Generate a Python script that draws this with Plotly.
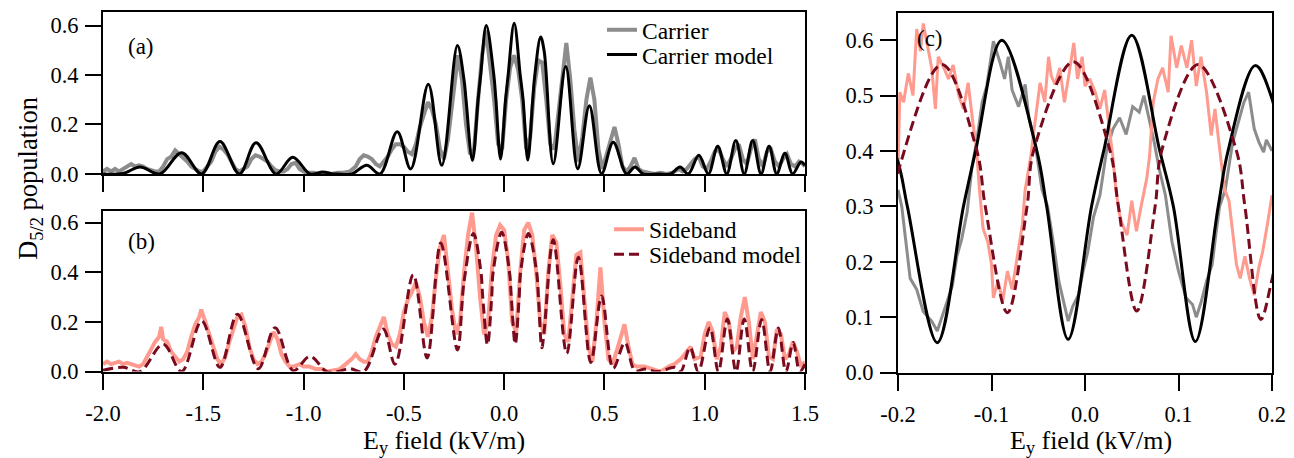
import plotly.graph_objects as go

# ---------------- data ----------------
# Carrier measurement, panel (a)
carrier_x = [-2.00,-1.98,-1.96,-1.94,-1.92,-1.90,-1.88,-1.86,-1.84,-1.82,-1.80,-1.78,-1.76,-1.74,-1.72,
             -1.70,-1.68,-1.66,-1.64,-1.62,-1.60,-1.58,-1.56,-1.54,-1.52,-1.50,-1.48,-1.46,-1.44,-1.42,
             -1.40,-1.38,-1.36,-1.34,-1.32,-1.30,-1.28,-1.26,-1.24,-1.22,-1.20,-1.18,-1.16,-1.14,-1.12,
             -1.10,-1.08,-1.06,-1.04,-1.02,-1.00,-0.98,-0.95,-0.92,-0.89,-0.86,-0.83,-0.80,-0.77,-0.74,
             -0.72,-0.70,-0.68,-0.66,-0.64,-0.62,-0.60,-0.58,-0.56,-0.54,-0.52,-0.50,-0.48,-0.46,-0.44,
             -0.42,-0.40,-0.38,-0.36,-0.34,-0.32,-0.30,-0.28,-0.26,-0.24,-0.23,-0.21,-0.19,-0.17,-0.15,
             -0.13,-0.11,-0.09,-0.07,-0.05,-0.03,-0.01,0.01,0.03,0.05,0.07,0.09,0.11,0.13,0.15,
             0.17,0.19,0.21,0.23,0.25,0.27,0.29,0.31,0.33,0.35,0.37,0.39,0.41,0.43,0.45,
             0.47,0.49,0.51,0.53,0.55,0.57,0.59,0.61,0.63,0.65,0.67,0.69,0.72,0.75,0.78,
             0.81,0.84,0.87,0.89,0.91,0.93,0.95,0.97,0.99,1.01,1.03,1.05,1.07,1.09,1.11,
             1.13,1.15,1.17,1.19,1.21,1.23,1.25,1.27,1.29,1.31,1.33,1.35,1.37,1.39,1.41,
             1.43,1.45,1.47,1.49,1.50]
carrier_y = [0.01,0.02,0.01,0.02,0.01,0.02,0.03,0.04,0.03,0.035,0.03,0.02,0.015,0.01,0.01,
             0.03,0.06,0.07,0.095,0.08,0.07,0.05,0.03,0.02,0.01,0.01,0.03,0.05,0.09,0.11,
             0.10,0.08,0.05,0.02,0.01,0.02,0.03,0.06,0.075,0.07,0.06,0.05,0.03,0.015,0.01,
             0.01,0.02,0.04,0.045,0.02,0.01,0.005,0.005,0.0,0.005,0.0,0.005,0.005,0.01,0.03,
             0.06,0.075,0.07,0.06,0.04,0.03,0.05,0.07,0.10,0.12,0.12,0.11,0.09,0.08,0.12,
             0.19,0.24,0.29,0.26,0.20,0.10,0.06,0.14,0.28,0.42,0.48,0.38,0.20,0.08,0.10,
             0.30,0.48,0.58,0.45,0.30,0.12,0.10,0.30,0.43,0.48,0.42,0.30,0.10,0.15,0.35,
             0.46,0.45,0.30,0.12,0.10,0.25,0.40,0.53,0.38,0.18,0.05,0.15,0.30,0.39,0.30,
             0.10,0.02,0.08,0.14,0.19,0.12,0.03,0.01,0.03,0.065,0.02,0.01,0.005,0.0,0.005,
             0.0,0.005,0.02,0.01,0.02,0.04,0.06,0.07,0.03,0.02,0.05,0.09,0.10,0.06,0.03,
             0.06,0.10,0.12,0.06,0.04,0.10,0.14,0.06,0.03,0.09,0.10,0.05,0.03,0.06,0.08,
             0.04,0.03,0.05,0.04,0.03]

# Carrier model (peaks, troughs and level crossings)
carrier_model_x = [-2.00,-1.90,-1.815,-1.716,-1.608,-1.508,-1.417,-1.320,-1.237,-1.137,-1.054,-0.968,-0.905,
                   -0.850,-0.760,-0.685,-0.619,-0.533,-0.466,-0.378,-0.311,-0.233,-0.200,-0.190,-0.158,
                   -0.130,-0.117,-0.089,-0.0515,-0.041,-0.018,0.007,0.020,0.050,0.080,0.0945,0.118,
                   0.1425,0.153,0.182,0.200,0.245,0.307,0.367,0.425,0.486,0.544,0.611,0.652,0.694,
                   0.770,0.830,0.877,0.918,0.971,1.018,1.065,1.110,1.155,1.197,1.239,1.281,1.321,
                   1.359,1.400,1.438,1.480,1.500]
carrier_model_y = [0.000,0.002,0.028,0.000,0.086,0.000,0.131,0.000,0.126,0.000,0.067,0.000,0.008,
                   0.000,0.000,0.035,0.000,0.171,0.020,0.363,0.035,0.519,0.380,0.300,0.054,
                   0.300,0.400,0.600,0.400,0.300,0.060,0.300,0.400,0.609,0.400,0.300,0.056,
                   0.300,0.400,0.554,0.494,0.041,0.434,0.021,0.276,0.001,0.128,0.000,0.028,0.000,
                   0.000,0.000,0.028,0.000,0.075,0.000,0.112,0.000,0.135,0.000,0.135,0.000,0.112,
                   0.000,0.084,0.000,0.048,0.035]

# Sideband measurement, panel (b)
sideband_x = [-2.00,-1.98,-1.96,-1.94,-1.92,-1.90,-1.88,-1.86,-1.84,-1.82,-1.80,-1.78,-1.76,-1.74,-1.72,
              -1.71,-1.70,-1.68,-1.66,-1.64,-1.62,-1.60,-1.58,-1.56,-1.54,-1.52,-1.51,-1.49,-1.47,-1.45,
              -1.43,-1.41,-1.39,-1.37,-1.35,-1.33,-1.31,-1.29,-1.27,-1.25,-1.23,-1.21,-1.19,-1.17,-1.15,
              -1.13,-1.11,-1.09,-1.07,-1.05,-1.02,-1.00,-0.97,-0.94,-0.91,-0.88,-0.85,-0.82,-0.79,-0.76,
              -0.74,-0.72,-0.70,-0.68,-0.66,-0.64,-0.62,-0.60,-0.58,-0.56,-0.54,-0.52,-0.50,-0.48,-0.46,
              -0.44,-0.42,-0.40,-0.38,-0.36,-0.34,-0.32,-0.30,-0.28,-0.26,-0.24,-0.22,-0.20,-0.18,-0.16,
              -0.14,-0.12,-0.10,-0.08,-0.06,-0.04,-0.02,0.00,0.02,0.04,0.06,0.08,0.10,0.12,0.14,
              0.16,0.18,0.20,0.22,0.24,0.26,0.28,0.30,0.32,0.34,0.36,0.38,0.40,0.42,0.44,
              0.46,0.48,0.50,0.52,0.54,0.56,0.58,0.60,0.62,0.64,0.66,0.70,0.74,0.78,0.82,
              0.85,0.88,0.91,0.93,0.95,0.98,1.00,1.02,1.04,1.06,1.08,1.10,1.12,1.14,1.16,
              1.18,1.20,1.22,1.24,1.26,1.28,1.30,1.32,1.34,1.36,1.38,1.40,1.42,1.44,1.46,
              1.48,1.50]
sideband_y = [0.03,0.04,0.03,0.035,0.04,0.03,0.035,0.03,0.025,0.02,0.03,0.06,0.09,0.12,0.14,
              0.18,0.13,0.12,0.08,0.06,0.04,0.05,0.08,0.14,0.19,0.22,0.25,0.20,0.15,0.10,
              0.05,0.03,0.06,0.12,0.17,0.22,0.23,0.18,0.10,0.05,0.03,0.04,0.07,0.12,0.16,
              0.13,0.07,0.04,0.02,0.02,0.03,0.02,0.02,0.01,0.01,0.0,0.005,0.01,0.03,0.05,
              0.07,0.05,0.04,0.04,0.08,0.14,0.18,0.22,0.15,0.11,0.10,0.15,0.24,0.29,0.32,
              0.36,0.30,0.20,0.14,0.22,0.38,0.50,0.55,0.38,0.25,0.15,0.20,0.40,0.55,0.64,
              0.50,0.30,0.15,0.20,0.42,0.55,0.59,0.57,0.45,0.20,0.16,0.40,0.57,0.60,0.55,
              0.40,0.20,0.15,0.40,0.55,0.52,0.35,0.15,0.12,0.30,0.47,0.48,0.30,0.10,0.04,
              0.20,0.42,0.20,0.05,0.03,0.08,0.14,0.19,0.10,0.03,0.02,0.02,0.01,0.0,0.02,
              0.03,0.05,0.08,0.10,0.05,0.06,0.15,0.20,0.16,0.05,0.10,0.24,0.20,0.08,0.10,
              0.22,0.30,0.20,0.05,0.15,0.24,0.20,0.06,0.05,0.17,0.15,0.05,0.07,0.12,0.08,
              0.02,0.04]

# Sideband model
sideband_model_x = [-2.00,-1.899,-1.816,-1.700,-1.608,-1.508,-1.417,-1.330,-1.226,-1.142,-1.051,-0.968,-0.885,
                    -0.830,-0.770,-0.700,-0.603,-0.544,-0.453,-0.384,-0.316,-0.233,-0.200,-0.153,-0.1156,
                    -0.1067,-0.083,-0.062,-0.055,-0.0124,0.0268,0.0357,0.0553,0.075,0.082,0.121,0.162,
                    0.171,0.188,0.200,0.245,0.312,0.370,0.432,0.486,0.544,0.602,0.652,0.702,0.768,
                    0.852,0.880,0.927,0.968,1.026,1.068,1.113,1.156,1.197,1.239,1.284,1.326,1.367,
                    1.405,1.441,1.474,1.500]
sideband_model_y = [0.005,0.017,0.000,0.110,0.000,0.204,0.017,0.231,0.011,0.177,0.004,0.061,0.000,
                    0.000,0.012,0.000,0.171,0.030,0.390,0.055,0.518,0.087,0.362,0.556,0.400,
                    0.300,0.108,0.300,0.400,0.561,0.400,0.300,0.111,0.300,0.400,0.556,0.400,
                    0.300,0.096,0.168,0.531,0.073,0.460,0.037,0.304,0.013,0.117,0.004,0.010,0.000,
                    0.017,0.000,0.097,0.000,0.177,0.000,0.212,0.000,0.212,0.000,0.210,0.000,0.175,
                    0.000,0.117,0.000,0.030]

# Zoomed measurements, panel (c)
carrier_c_x = [-0.200,-0.196,-0.187,-0.180,-0.173,-0.164,-0.158,-0.153,-0.148,-0.142,-0.137,-0.132,-0.126,
               -0.121,-0.116,-0.110,-0.105,-0.098,-0.091,-0.086,-0.082,-0.078,-0.071,-0.064,-0.060,-0.053,
               -0.046,-0.040,-0.034,-0.028,-0.023,-0.018,-0.013,-0.007,-0.002,0.003,0.009,0.016,0.023,
               0.030,0.037,0.044,0.051,0.058,0.063,0.069,0.074,0.079,0.086,0.093,0.100,0.108,0.115,
               0.119,0.124,0.130,0.136,0.140,0.144,0.150,0.158,0.165,0.170,0.175,0.181,0.186,0.191,
               0.194,0.200]
carrier_c_y = [0.33,0.30,0.17,0.15,0.11,0.093,0.075,0.10,0.123,0.156,0.21,0.24,0.29,
               0.37,0.416,0.488,0.518,0.598,0.56,0.53,0.57,0.51,0.48,0.52,0.46,0.41,
               0.33,0.30,0.236,0.165,0.129,0.093,0.12,0.14,0.183,0.218,0.28,0.32,0.40,
               0.44,0.46,0.43,0.48,0.47,0.50,0.455,0.416,0.37,0.32,0.236,0.183,0.135,0.123,
               0.10,0.126,0.165,0.195,0.25,0.30,0.33,0.416,0.458,0.488,0.506,0.44,0.416,0.398,
               0.42,0.40]
sideband_c_x = [-0.200,-0.198,-0.194,-0.189,-0.184,-0.180,-0.176,-0.173,-0.169,-0.164,-0.160,-0.157,-0.151,
                -0.146,-0.141,-0.135,-0.130,-0.125,-0.120,-0.116,-0.113,-0.109,-0.104,-0.100,-0.098,-0.093,
                -0.088,-0.083,-0.078,-0.072,-0.067,-0.064,-0.058,-0.053,-0.048,-0.043,-0.039,-0.036,-0.032,
                -0.027,-0.022,-0.017,-0.012,-0.008,-0.003,0.000,0.005,0.011,0.016,0.021,0.026,0.030,
                0.033,0.037,0.040,0.045,0.050,0.055,0.060,0.066,0.069,0.073,0.078,0.083,0.089,
                0.092,0.098,0.103,0.109,0.114,0.119,0.124,0.130,0.135,0.139,0.144,0.149,0.154,
                0.158,0.162,0.166,0.171,0.176,0.181,0.186,0.190,0.195,0.200]
sideband_c_y = [0.368,0.506,0.488,0.54,0.50,0.62,0.58,0.63,0.595,0.55,0.476,0.57,0.55,
                0.53,0.555,0.50,0.476,0.523,0.452,0.404,0.332,0.26,0.236,0.195,0.135,0.165,
                0.129,0.183,0.15,0.21,0.267,0.33,0.39,0.458,0.523,0.488,0.57,0.535,0.52,
                0.55,0.488,0.54,0.595,0.53,0.57,0.517,0.53,0.506,0.476,0.51,0.44,0.386,
                0.33,0.285,0.267,0.248,0.31,0.255,0.30,0.35,0.39,0.488,0.53,0.55,0.506,
                0.608,0.55,0.59,0.55,0.60,0.517,0.57,0.506,0.428,0.476,0.398,0.332,0.31,
                0.255,0.195,0.17,0.21,0.17,0.14,0.19,0.218,0.267,0.32]

# Tick labels
ab_tickvals = [-2.0, -1.5, -1.0, -0.5, 0.0, 0.5, 1.0, 1.5]
ab_ticktext = ["-2.0", "-1.5", "-1.0", "-0.5", "0.0", "0.5", "1.0", "1.5"]
c_tickvals = [-0.2, -0.1, 0.0, 0.1, 0.2]
c_ticktext = ["-0.2", "-0.1", "0.0", "0.1", "0.2"]
ab_ytickvals = [0.0, 0.2, 0.4, 0.6]
ab_yticktext = ["0.0", "0.2", "0.4", "0.6"]
ab_yminorvals = [0.1, 0.3, 0.5]
c_ytickvals = [0.0, 0.1, 0.2, 0.3, 0.4, 0.5, 0.6]
c_yticktext = ["0.0", "0.1", "0.2", "0.3", "0.4", "0.5", "0.6"]

# ---------------- styling ----------------
OFF = 8                      # page body margin
W, H = 1294 - OFF, 458 - OFF
FONT = "Liberation Serif"
GRAY = "#8c8c8c"
SALMON = "#ff9a8e"
DARKRED = "#7a0a1e"
DASH = "10px,5px"

def px_x(p):
    return (p - OFF) / W

def px_y(p):
    return 1 - (p - OFF) / H

fig = go.Figure()

# Panel (a)
fig.add_trace(go.Scatter(x=carrier_x, y=carrier_y, mode="lines", name="Carrier",
                         line=dict(color=GRAY, width=4), xaxis="x", yaxis="y", legend="legend"))
fig.add_trace(go.Scatter(x=carrier_model_x, y=carrier_model_y, mode="lines", name="Carrier model",
                         line=dict(color="black", width=3, shape="spline", smoothing=1.0),
                         xaxis="x", yaxis="y", legend="legend2"))
# Panel (b)
fig.add_trace(go.Scatter(x=sideband_x, y=sideband_y, mode="lines", name="Sideband",
                         line=dict(color=SALMON, width=4), xaxis="x2", yaxis="y2", legend="legend3"))
fig.add_trace(go.Scatter(x=sideband_model_x, y=sideband_model_y, mode="lines", name="Sideband model",
                         line=dict(color=DARKRED, width=3, dash=DASH, shape="spline", smoothing=1.0),
                         xaxis="x2", yaxis="y2", legend="legend4"))
# Panel (c)
fig.add_trace(go.Scatter(x=carrier_c_x, y=carrier_c_y, mode="lines", showlegend=False,
                         line=dict(color=GRAY, width=3), xaxis="x3", yaxis="y3"))
fig.add_trace(go.Scatter(x=sideband_c_x, y=sideband_c_y, mode="lines", showlegend=False,
                         line=dict(color=SALMON, width=3), xaxis="x3", yaxis="y3"))
fig.add_trace(go.Scatter(x=carrier_model_x, y=carrier_model_y, mode="lines", showlegend=False,
                         line=dict(color="black", width=3, shape="spline", smoothing=1.0),
                         xaxis="x3", yaxis="y3"))
fig.add_trace(go.Scatter(x=sideband_model_x, y=sideband_model_y, mode="lines", showlegend=False,
                         line=dict(color=DARKRED, width=3, dash=DASH, shape="spline", smoothing=1.0),
                         xaxis="x3", yaxis="y3"))

tickfont = dict(family=FONT, size=22.5, color="black")

def xax(domain, rng, tv, tt, show, anchor):
    return dict(domain=domain, range=rng, anchor=anchor, tickvals=tv, ticktext=tt,
                showticklabels=show, ticks="outside", ticklen=16, tickwidth=2, tickcolor="black",
                showline=True, linewidth=2, linecolor="black", mirror=True, showgrid=False,
                zeroline=False, tickfont=tickfont, automargin=False, ticklabelstandoff=4)

def yax(domain, rng, tv, tt, anchor):
    return dict(domain=domain, range=rng, anchor=anchor, tickvals=tv, ticktext=tt,
                ticks="outside", ticklen=16, tickwidth=2, tickcolor="black",
                showline=True, linewidth=2, linecolor="black", mirror=True, showgrid=False,
                zeroline=False, tickfont=tickfont, automargin=False, ticklabelstandoff=2)

def yminor(over, anchor, rng):
    # overlay axis carrying only the short minor ticks
    return dict(overlaying=over, anchor=anchor, side="left", range=rng, tickvals=ab_yminorvals,
                ticks="outside", ticklen=8, tickwidth=2, tickcolor="black", showticklabels=False,
                showline=False, showgrid=False, zeroline=False, automargin=False)

xdom_ab = [px_x(103), px_x(805)]
xdom_c = [px_x(898), px_x(1272)]

leg_font = dict(family=FONT, size=23.5, color="black")

def legend_at(xp, yp):
    return dict(x=px_x(xp), y=px_y(yp), xanchor="left", yanchor="middle", font=leg_font,
                bgcolor="rgba(0,0,0,0)", borderwidth=0, tracegroupgap=0)

RNG_A = [0, 0.655]
RNG_B = [0, 0.648]

fig.update_layout(
    width=W, height=H,
    margin=dict(l=0, r=0, t=0, b=0),
    paper_bgcolor="white", plot_bgcolor="white",
    xaxis=xax(xdom_ab, [-2.0, 1.5], ab_tickvals, ab_ticktext, False, "y"),
    yaxis=yax([px_y(172), px_y(9)], RNG_A, ab_ytickvals, ab_yticktext, "x"),
    xaxis2=xax(xdom_ab, [-2.0, 1.5], ab_tickvals, ab_ticktext, True, "y2"),
    yaxis2=yax([px_y(371), px_y(209)], RNG_B, ab_ytickvals, ab_yticktext, "x2"),
    xaxis3=xax(xdom_c, [-0.2, 0.2], c_tickvals, c_ticktext, True, "y3"),
    yaxis3=yax([px_y(372), px_y(10)], [0, 0.649], c_ytickvals, c_yticktext, "x3"),
    yaxis4=yminor("y", "x", RNG_A),
    yaxis5=yminor("y2", "x2", RNG_B),
    legend=legend_at(602, 27),
    legend2=legend_at(602, 52),
    legend3=legend_at(609, 228),
    legend4=legend_at(609, 253),
    showlegend=True,
)

ann_font = dict(family=FONT, size=23, color="black")
title_font = dict(family=FONT, size=26, color="black")
fig.add_annotation(text="(a)", x=px_x(141), y=px_y(44), xref="paper", yref="paper",
                   showarrow=False, font=ann_font, xanchor="center", yanchor="middle")
fig.add_annotation(text="(b)", x=px_x(141), y=px_y(240), xref="paper", yref="paper",
                   showarrow=False, font=ann_font, xanchor="center", yanchor="middle")
fig.add_annotation(text="(c)", x=px_x(930), y=px_y(36), xref="paper", yref="paper",
                   showarrow=False, font=ann_font, xanchor="center", yanchor="middle")
fig.add_annotation(text="D<sub>5/2</sub> population", x=px_x(30), y=px_y(177), xref="paper",
                   yref="paper", showarrow=False, font=dict(family=FONT, size=26.5, color="black"),
                   textangle=-90, xanchor="center", yanchor="middle")
fig.add_annotation(text="E<sub>y</sub> field (kV/m)", x=px_x(444), y=px_y(442), xref="paper",
                   yref="paper", showarrow=False, font=title_font, xanchor="center", yanchor="middle")
fig.add_annotation(text="E<sub>y</sub> field (kV/m)", x=px_x(1091), y=px_y(442), xref="paper",
                   yref="paper", showarrow=False, font=title_font, xanchor="center", yanchor="middle")

fig.write_html("out.html")
